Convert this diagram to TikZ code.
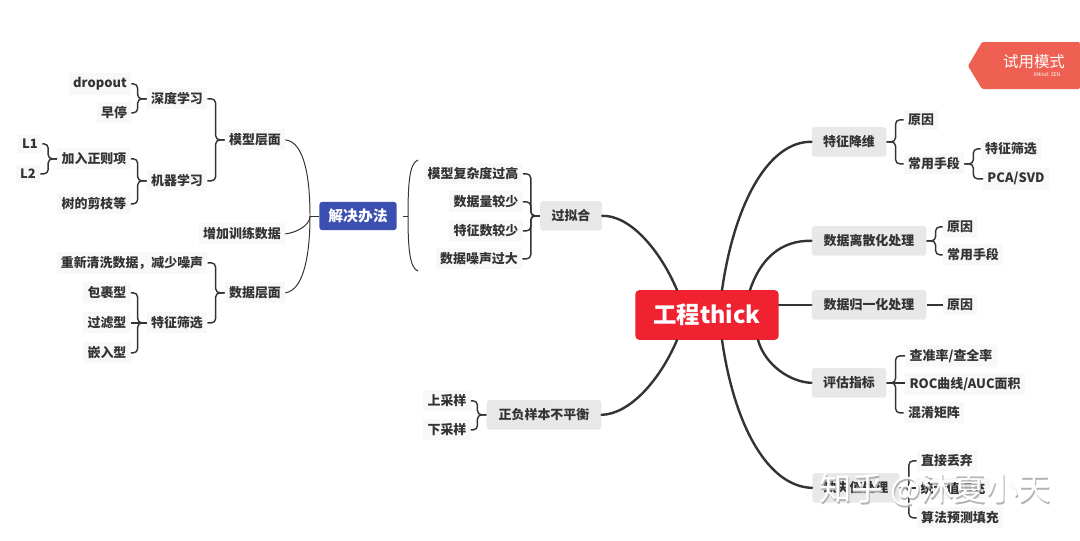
\documentclass[tikz,border=0pt]{standalone}
\usepackage{fontspec}
\setmainfont{Noto Sans CJK SC}
\usepackage{pgf,tikz}
\usetikzlibrary{positioning,calc}
\definecolor{linecol}{HTML}{333333}
\definecolor{greybox}{HTML}{E8E8E8}
\definecolor{halo}{HTML}{F8F8F8}
\definecolor{rootred}{HTML}{F0222F}
\definecolor{solveblue}{HTML}{3A4FAF}
\definecolor{badgecol}{HTML}{EE6152}
\tikzset{
	leaf/.style={fill=halo,text=linecol,inner sep=3pt,yshift=-0.6pt,font=\fontsize{9.2}{11}\selectfont\bfseries},
	topic/.style={fill=greybox,rounded corners=2pt,text=linecol,inner sep=0pt,minimum height=21pt,yshift=-0.6pt,font=\fontsize{9.2}{11}\selectfont\bfseries},
	mainlink/.style={draw=linecol,line width=1.7pt,line cap=round},
	sublink/.style={draw=linecol,line width=1pt,rounded corners=3pt},
	thinlink/.style={draw=linecol,line width=0.7pt}
}
% elbow from a parent to a child, on the left or on the right of the parent
\newcommand{\lbranch}[3][0.9]{\draw[sublink] (#2.west) -- ++(-#1,0) |- (#3.east);}
\newcommand{\rbranch}[3][0.9]{\draw[sublink] (#2.east) -- ++(#1,0) |- (#3.west);}
\begin{document}
\begin{tikzpicture}[scale=0.25]
	\useasboundingbox (0,0) rectangle (108,-54);
	\fill[white] (0,0) rectangle (108,-54);
	% centre
	\node[fill=rootred,text=white,rounded corners=3pt,minimum width=102pt,minimum height=35.5pt,inner sep=0pt,font=\fontsize{16.6}{20}\selectfont\bfseries] (root) at (70.7,-31.5) {工程thick};
	% right side
	\node[topic,minimum width=53pt] (jiangwei) at (84.9,-14.1) {特征降维};
	\node[leaf] (jwwhy) at (92.1,-11.9) {原因};
	\node[leaf] (jwhow) at (93.4,-16.3) {常用手段};
	\node[leaf] (jwsel) at (101.1,-14.8) {特征筛选};
	\node[leaf] (jwpca) at (101.6,-17.8) {PCA/SVD};
	\node[topic,minimum width=81.5pt] (lisan) at (86.9,-24) {数据离散化处理};
	\node[leaf] (lswhy) at (96,-22.6) {原因};
	\node[leaf] (lshow) at (97.3,-25.4) {常用手段};
	\node[topic,minimum width=81.5pt] (guiyi) at (86.9,-30.4) {数据归一化处理};
	\node[leaf] (gywhy) at (96,-30.4) {原因};
	\node[topic,minimum width=53pt] (pinggu) at (84.9,-38.2) {评估指标};
	\node[leaf] (pgpr) at (95.1,-35.5) {查准率/查全率};
	\node[leaf] (pgroc) at (96.5,-38.3) {ROC曲线/AUC面积};
	\node[leaf] (pgmat) at (93.4,-41.2) {混淆矩阵};
	\node[topic,minimum width=62pt] (queshi) at (85.6,-48.7) {缺失值处理};
	\node[leaf] (qsdrop) at (94.7,-46) {直接丢弃};
	\node[leaf] (qsmean) at (95.3,-48.8) {统计值填充};
	\node[leaf] (qsalgo) at (96,-51.7) {算法预测填充};
	% middle
	\node[topic,minimum width=44pt] (guonihe) at (57.1,-21.5) {过拟合};
	\node[leaf] (ghmodel) at (47.3,-17.3) {模型复杂度过高};
	\node[leaf] (ghdata) at (48.6,-20.1) {数据量较少};
	\node[leaf] (ghfeat) at (48.6,-23) {特征数较少};
	\node[leaf] (ghnoise) at (47.9,-25.8) {数据噪声过大};
	\node[topic,minimum width=81.5pt] (buping) at (54.4,-41.4) {正负样本不平衡};
	\node[leaf] (bpup) at (44.7,-40) {上采样};
	\node[leaf] (bpdown) at (44.7,-42.9) {下采样};
	\node[fill=solveblue,text=white,rounded corners=2pt,minimum width=55pt,minimum height=20pt,inner sep=0pt,font=\fontsize{10.5}{12}\selectfont\bfseries] (solve) at (35.8,-21.6) {解决办法};
	\coordinate (bracetop) at (41.8,-16);
	\coordinate (bracebot) at (41.8,-27.1);
	% left side
	\node[leaf] (moxing) at (25.5,-13.9) {模型层面};
	\node[leaf] (shendu) at (17.7,-9.8) {深度学习};
	\node[leaf] (jiqi) at (17.7,-18) {机器学习};
	\node[leaf] (dropout) at (10,-8.3) {dropout};
	\node[leaf] (zaoting) at (11.4,-11.2) {早停};
	\node[leaf] (zhengze) at (9.4,-15.8) {加入正则项};
	\node[leaf] (jianzhi) at (9.4,-20.3) {树的剪枝等};
	\node[leaf] (lone) at (3,-14.3) {L1};
	\node[leaf] (ltwo) at (2.8,-17.3) {L2};
	\node[leaf] (zengjia) at (24.2,-23.3) {增加训练数据};
	\node[leaf] (shuju) at (25.5,-29.2) {数据层面};
	\node[leaf] (qingxi) at (13.2,-26.2) {重新清洗数据，减少噪声};
	\node[leaf] (tezheng) at (17.7,-32.2) {特征筛选};
	\node[leaf] (baoguo) at (10.7,-29.2) {包裹型};
	\node[leaf] (guolv) at (10.7,-32.2) {过滤型};
	\node[leaf] (qianru) at (10.7,-35.2) {嵌入型};
	% badge
	\fill[badgecol,rounded corners=1pt] (96.8,-6.6) -- (98.2,-4.2) -- (108,-4.2) -- (108,-8.9) -- (98.2,-8.9) -- cycle;
	\node[text=white,inner sep=0pt,font=\fontsize{11}{13}\selectfont] (badge) at (103.4,-6.2) {试用模式};
	\node[text=white,inner sep=0pt,font=\fontsize{3.6}{4}\selectfont] (badgesub) at (104.7,-7.5) {XMind: ZEN};
	% root links
	\draw[mainlink] (jiangwei.west) .. controls (77,-14.1) and (73.5,-20) .. (72.2,-29);
	\draw[mainlink] (lisan.west) .. controls (78,-24) and (76,-26) .. (75,-29);
	\draw[mainlink] (root.east |- guiyi.west) -- (guiyi.west);
	\draw[mainlink] (pinggu.west) .. controls (79,-38.2) and (76.5,-36.5) .. (75.8,-34);
	\draw[mainlink] (queshi.west) .. controls (77,-48.7) and (73.5,-43) .. (72.2,-34);
	\draw[mainlink] (guonihe.east) .. controls (63,-21.5) and (66,-25) .. (67.7,-29);
	\draw[mainlink] (buping.east) .. controls (63,-41.4) and (66,-38) .. (67.7,-34);
	% branches
	\rbranch{jiangwei}{jwwhy}
	\rbranch{jiangwei}{jwhow}
	\rbranch{jwhow}{jwsel}
	\rbranch{jwhow}{jwpca}
	\rbranch{lisan}{lswhy}
	\rbranch{lisan}{lshow}
	\draw[sublink] (guiyi) -- (gywhy);
	\rbranch{pinggu}{pgpr}
	\draw[sublink] (pinggu.east) -- (pinggu.east -| pgroc.west);
	\rbranch{pinggu}{pgmat}
	\rbranch{queshi}{qsdrop}
	\draw[sublink] (queshi.east) -- (queshi.east -| qsmean.west);
	\rbranch{queshi}{qsalgo}
	\lbranch{guonihe}{ghmodel}
	\lbranch{guonihe}{ghdata}
	\lbranch{guonihe}{ghfeat}
	\lbranch{guonihe}{ghnoise}
	\lbranch{buping}{bpup}
	\lbranch{buping}{bpdown}
	\lbranch{moxing}{shendu}
	\lbranch{moxing}{jiqi}
	\lbranch{shendu}{dropout}
	\lbranch{shendu}{zaoting}
	\lbranch{jiqi}{zhengze}
	\lbranch{jiqi}{jianzhi}
	\lbranch{zhengze}{lone}
	\lbranch{zhengze}{ltwo}
	\lbranch{shuju}{qingxi}
	\lbranch{shuju}{tezheng}
	\lbranch{tezheng}{baoguo}
	\draw[sublink] (tezheng.west) -- (tezheng.west -| guolv.east);
	\lbranch{tezheng}{qianru}
	% solve links
	\draw[thinlink] (solve.west) -- (31,-21.6);
	\draw[thinlink] (moxing.east) .. controls (30.5,-14.2) and (31,-18) .. (31,-21.6);
	\draw[thinlink] (zengjia.east) .. controls (29.5,-23.3) and (31,-22.6) .. (31,-21.6);
	\draw[thinlink] (shuju.east) .. controls (30.5,-29) and (31,-25) .. (31,-21.6);
	\draw[thinlink,shorten <=4pt] (solve.east) -- (40.8,-21.6);
	\draw[thinlink] (bracetop) .. controls (41,-16.3) and (40.8,-18) .. (40.8,-21.6);
	\draw[thinlink] (bracebot) .. controls (41,-26.8) and (40.8,-25) .. (40.8,-21.6);
	% watermark
	\node[text=black!30,inner sep=0pt,font=\fontsize{23}{26}\selectfont] (markshadow) at (93.6,-49.15) {知乎 @沐夏小天};
	\node[text=white,inner sep=0pt,font=\fontsize{23}{26}\selectfont] (mark) at (93.5,-49) {知乎 @沐夏小天};
\end{tikzpicture}
\end{document}
